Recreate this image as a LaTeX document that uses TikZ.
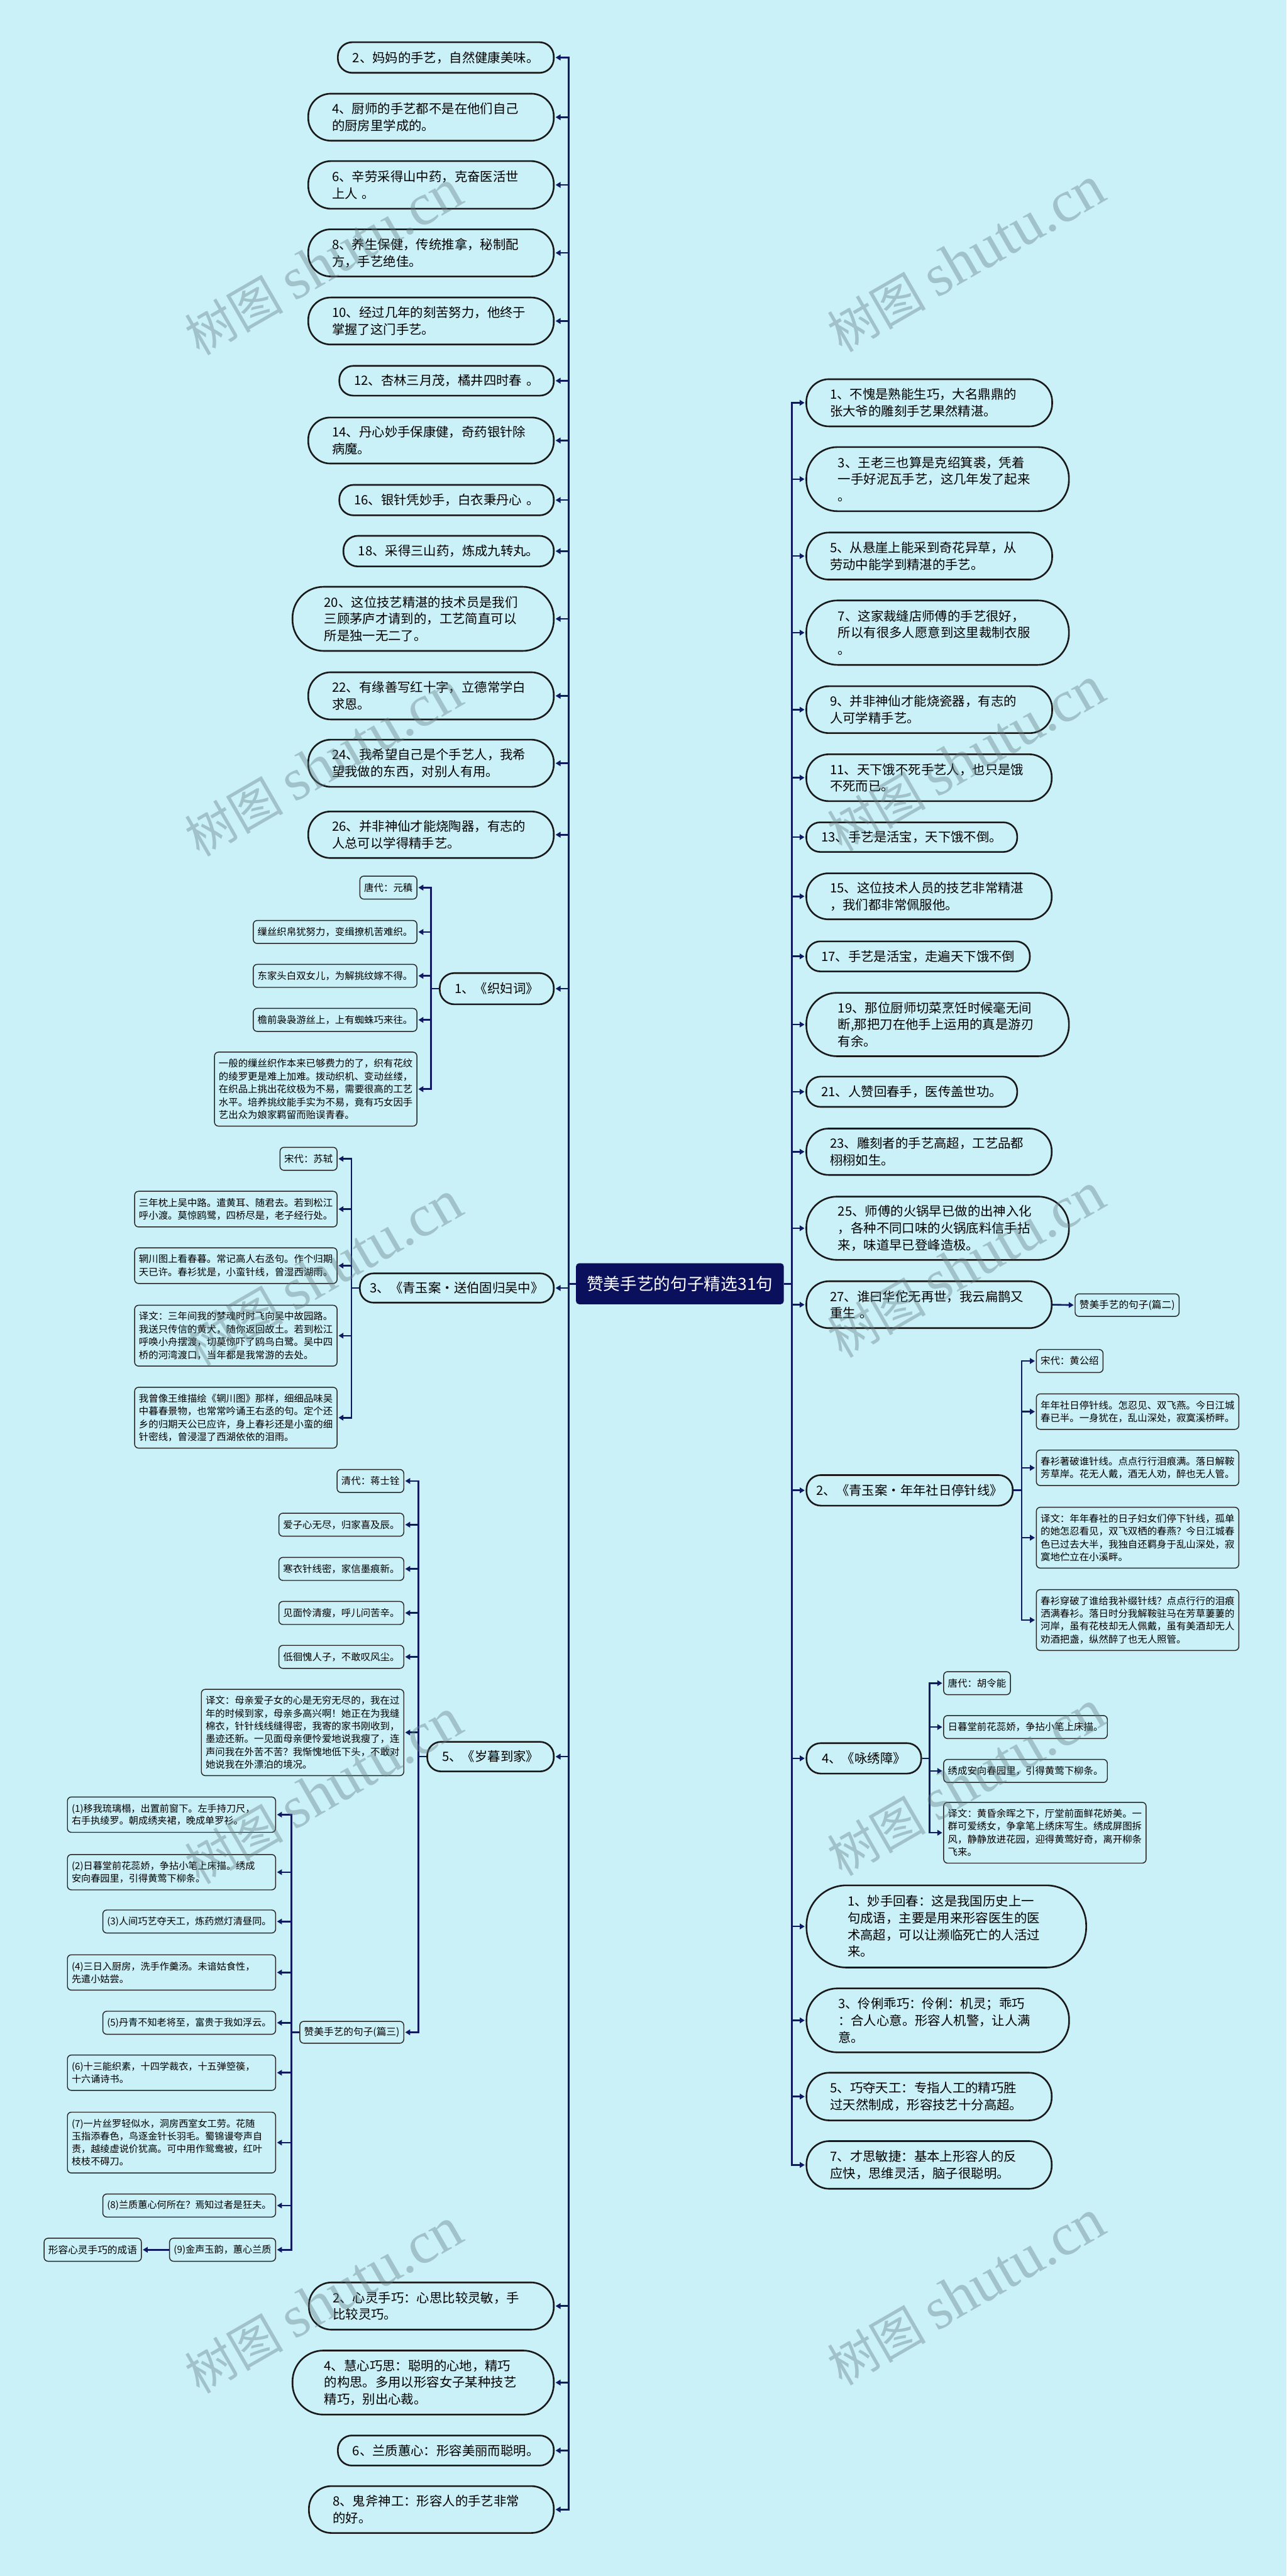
\documentclass[tikz,border=0pt]{standalone}
\usepackage{fontspec}
\setmainfont{Noto Sans CJK SC}
\newfontfamily\wmfont{Liberation Serif}
\usetikzlibrary{arrows.meta,calc}
\definecolor{bgc}{HTML}{CAF0F8}
\definecolor{navy}{HTML}{101A60}
\definecolor{rootc}{HTML}{0B105C}
\tikzset{
 conn/.style={draw=navy, line width=1pt, -{Triangle[length=3pt,width=3.4pt]}, shorten >=0.6pt},
 trunk/.style={draw=navy, line width=1pt},
 lvl/.style={draw=black!90, line width=1pt, fill=bgc, font=\fontsize{7.8}{10.2}\selectfont, inner ysep=1pt},
 subx/.style={draw=black!85, line width=0.55pt, fill=bgc, rounded corners=2.4pt, font=\fontsize{5.9}{7.8}\selectfont, inner xsep=2.6pt, inner ysep=2.5pt, align=left, minimum height=14pt},
 subt/.style={subx, font=\fontsize{5.8}{7.6}\selectfont},
 rootbox/.style={fill=rootc, text=white, rounded corners=2pt, minimum width=126.5pt, minimum height=25pt, font=\fontsize{10.2}{12}\selectfont},
 wm/.style={text={rgb,255:red,100;green,125;blue,130}, text opacity=0.4, font=\fontsize{30}{30}\selectfont, rotate=30}
}
\newcommand\Lbox[7]{%
 \pgfmathsetmacro\mW{#4-#2}%
 \pgfmathsetmacro\mH{#5-#3}%
 \pgfmathsetmacro\mX{(#2+#4)/2}%
 \pgfmathsetmacro\mY{(#3+#5)/2}%
 \pgfmathsetmacro\mR{\mH/2-0.6}%
 \pgfmathsetmacro\mT{\mW-2*#6}%
 \node[lvl, minimum width=\mW pt, minimum height=\mH pt, text width=\mT pt, inner xsep=#6pt, rounded corners=\mR pt, align=left] (#1) at (\mX,\mY) {#7};}
\newcommand\Cbox[6]{%
 \pgfmathsetmacro\mW{#4-#2}%
 \pgfmathsetmacro\mH{#5-#3}%
 \pgfmathsetmacro\mX{(#2+#4)/2}%
 \pgfmathsetmacro\mY{(#3+#5)/2}%
 \pgfmathsetmacro\mR{\mH/2-0.6}%
 \pgfmathsetmacro\mT{\mW-8}%
 \node[lvl, minimum width=\mW pt, minimum height=\mH pt, text width=\mT pt, inner xsep=4pt, rounded corners=\mR pt, align=center] (#1) at (\mX,\mY) {#6};}
\newcommand\Sbox[6]{\node[subx, anchor=#2, minimum height=#5pt] (#1) at (#3,#4) {#6};}
\begin{document}
\begin{tikzpicture}[x=1pt,y=-1pt]
\fill[bgc] (0,0) rectangle (783,1567.2);
\useasboundingbox (0,0) rectangle (783,1567.2);

% root
\node[rootbox] (root) at (413.75,781) {赞美手艺的句子精选31句};
\coordinate (LT) at (346,781);
\coordinate (RT) at (482,781);

% left level-1
\Cbox{L2}{205.6}{25.7}{337}{44.3}{2、妈妈的手艺，自然健康美味。}
\Lbox{L4}{187.6}{57}{337}{85.6}{14.5}{4、厨师的手艺都不是在他们自己\\的厨房里学成的。}
\Lbox{L6}{187.6}{98}{337}{127}{14.5}{6、辛劳采得山中药，克奋医活世\\上人 。}
\Lbox{L8}{187.6}{139.5}{337}{168.2}{14.5}{8、养生保健，传统推拿，秘制配\\方，手艺绝佳。}
\Lbox{L10}{187.6}{181}{337}{209.6}{14.5}{10、经过几年的刻苦努力，他终于\\掌握了这门手艺。}
\Cbox{L12}{206.5}{222.6}{337}{240.7}{12、杏林三月茂，橘井四时春 。}
\Lbox{L14}{187.6}{254}{337}{282}{14.5}{14、丹心妙手保康健，奇药银针除\\病魔。}
\Cbox{L16}{206.5}{295}{337}{313.5}{16、银针凭妙手，白衣秉丹心 。}
\Cbox{L18}{209}{326}{337}{344.6}{18、采得三山药，炼成九转丸。}
\Lbox{L20}{178}{357}{337}{396}{19.3}{20、这位技艺精湛的技术员是我们\\三顾茅庐才请到的，工艺简直可以\\所是独一无二了。}
\Lbox{L22}{187.6}{409}{337}{437.7}{14.5}{22、有缘善写红十字，立德常学白\\求恩。}
\Lbox{L24}{187.6}{450}{337}{478.7}{14.5}{24、我希望自己是个手艺人，我希\\望我做的东西，对别人有用。}
\Lbox{L26}{187.6}{493.7}{337}{522}{14.5}{26、并非神仙才能烧陶器，有志的\\人总可以学得精手艺。}
\Cbox{P1}{267.6}{592}{337}{611}{1、《织妇词》}
\Cbox{P3}{219}{774.7}{337}{792.5}{3、《青玉案·送伯固归吴中》}
\Cbox{P5}{260}{1059.7}{337}{1077.7}{5、《岁暮到家》}
\Lbox{B2}{188}{1388.6}{337}{1417.3}{14.5}{2、心灵手巧：心思比较灵敏，手\\比较灵巧。}
\Lbox{B4}{178}{1430}{337}{1469}{19.3}{4、慧心巧思：聪明的心地，精巧\\的构思。多用以形容女子某种技艺\\精巧，别出心裁。}
\Cbox{B6}{205.6}{1481.7}{337}{1500}{6、兰质蕙心：形容美丽而聪明。}
\Lbox{B8}{188}{1512.5}{337}{1541}{14.5}{8、鬼斧神工：形容人的手艺非常\\的好。}

% right level-1
\Lbox{R1}{490.7}{230.7}{640.3}{259.4}{14.4}{1、不愧是熟能生巧，大名鼎鼎的\\张大爷的雕刻手艺果然精湛。}
\Lbox{R3}{490.7}{272}{650.5}{311}{19.3}{3、王老三也算是克绍箕裘，凭着\\一手好泥瓦手艺，这几年发了起来\\。}
\Lbox{R5}{490.7}{324}{640.3}{352.6}{14.4}{5、从悬崖上能采到奇花异草，从\\劳动中能学到精湛的手艺。}
\Lbox{R7}{490.7}{365.3}{650.5}{404.5}{19.3}{7、这家裁缝店师傅的手艺很好，\\所以有很多人愿意到这里裁制衣服\\。}
\Lbox{R9}{490.7}{417.5}{640.3}{446}{14.4}{9、并非神仙才能烧瓷器，有志的\\人可学精手艺。}
\Lbox{R11}{490.7}{458.9}{640}{487.4}{14.4}{11、天下饿不死手艺人，也只是饿\\不死而已。}
\Cbox{R13}{490.7}{500.3}{619}{518.3}{13、手艺是活宝，天下饿不倒。}
\Lbox{R15}{490.7}{531.3}{640}{559.3}{14.4}{15、这位技术人员的技艺非常精湛\\，我们都非常佩服他。}
\Cbox{R17}{490.7}{572.7}{626.7}{591}{17、手艺是活宝，走遍天下饿不倒}
\Lbox{R19}{490.7}{604}{650.5}{642.6}{19.3}{19、那位厨师切菜烹饪时候毫无间\\断,那把刀在他手上运用的真是游刃\\有余。}
\Cbox{R21}{490.7}{655}{619}{673.4}{21、人赞回春手，医传盖世功。}
\Lbox{R23}{490.7}{686.6}{640}{714.8}{14.4}{23、雕刻者的手艺高超，工艺品都\\栩栩如生。}
\Lbox{R25}{490.7}{728}{650.5}{766.5}{19.3}{25、师傅的火锅早已做的出神入化\\，各种不同口味的火锅底料信手拈\\来，味道早已登峰造极。}
\Lbox{R27}{490.7}{779.5}{640}{808}{14.4}{27、谁曰华佗无再世，我云扁鹊又\\重生 。}
\Cbox{Q2}{490.8}{897.4}{616.3}{916}{2、《青玉案·年年社日停针线》}
\Cbox{Q4}{490.8}{1060.5}{560.6}{1079}{4、《咏绣障》}
\Lbox{M1}{490.8}{1147}{661}{1197}{25}{1、妙手回春：这是我国历史上一\\句成语，主要是用来形容医生的医\\术高超，可以让濒临死亡的人活过\\来。}
\Lbox{M3}{490.8}{1209.7}{650.6}{1248.6}{19.3}{3、伶俐乖巧：伶俐：机灵；乖巧\\：合人心意。形容人机警，让人满\\意。}
\Lbox{M5}{490.8}{1261}{640}{1290}{14.4}{5、巧夺天工：专指人工的精巧胜\\过天然制成，形容技艺十分高超。}
\Lbox{M7}{490.8}{1302.6}{640}{1331.6}{14.4}{7、才思敏捷：基本上形容人的反\\应快，思维灵活，脑子很聪明。}

% sub: 织妇词
\Sbox{a1}{east}{254}{540}{14}{唐代：元稹}
\Sbox{a2}{east}{254}{567}{14}{缫丝织帛犹努力，变缉撩机苦难织。}
\Sbox{a3}{east}{254}{593.7}{14}{东家头白双女儿，为解挑纹嫁不得。}
\Sbox{a4}{east}{254}{620.5}{14}{檐前袅袅游丝上，上有蜘蛛巧来往。}
\Sbox{a5}{east}{254}{662.6}{45}{一般的缫丝织作本来已够费力的了，织有花纹\\的绫罗更是难上加难。拨动织机、变动丝缕，\\在织品上挑出花纹极为不易，需要很高的工艺\\水平。培养挑纹能手实为不易，竟有巧女因手\\艺出众为娘家羁留而贻误青春。}
% sub: 送伯固
\Sbox{b1}{east}{205.4}{705}{14}{宋代：苏轼}
\Sbox{b2}{east}{205.4}{735.6}{21.7}{三年枕上吴中路。遣黄耳、随君去。若到松江\\呼小渡。莫惊鸥鹭，四桥尽是，老子经行处。}
\Sbox{b3}{east}{205.4}{770}{21.7}{辋川图上看春暮。常记高人右丞句。作个归期\\天已许。春衫犹是，小蛮针线，曾湿西湖雨。}
\Sbox{b4}{east}{205.4}{812.6}{37}{译文：三年间我的梦魂时时飞向吴中故园路。\\我送只传信的黄犬，随你返回故土。若到松江\\呼唤小舟摆渡，切莫惊吓了鸥鸟白鹭。吴中四\\桥的河湾渡口，当年都是我常游的去处。}
\Sbox{b5}{east}{205.4}{862.5}{37}{我曾像王维描绘《辋川图》那样，细细品味吴\\中暮春景物，也常常吟诵王右丞的句。定个还\\乡的归期天公已应许，身上春衫还是小蛮的细\\针密线，曾浸湿了西湖依依的泪雨。}
% sub: 岁暮到家
\Sbox{c1}{east}{246}{901}{14}{清代：蒋士铨}
\Sbox{c2}{east}{246}{927.6}{14}{爱子心无尽，归家喜及辰。}
\Sbox{c3}{east}{246}{954.5}{14}{寒衣针线密，家信墨痕新。}
\Sbox{c4}{east}{246}{981.3}{14}{见面怜清瘦，呼儿问苦辛。}
\Sbox{c5}{east}{246}{1008}{14}{低徊愧人子，不敢叹风尘。}
\Sbox{c6}{east}{246}{1054}{52.5}{译文：母亲爱子女的心是无穷无尽的，我在过\\年的时候到家，母亲多高兴啊！她正在为我缝\\棉衣，针针线线缝得密，我寄的家书刚收到，\\墨迹还新。一见面母亲便怜爱地说我瘦了，连\\声问我在外苦不苦？我惭愧地低下头，不敢对\\她说我在外漂泊的境况。}
\node[subx, font=\fontsize{6}{7.6}\selectfont, anchor=east, minimum height=13.3pt] (c7) at (246,1236.4) {赞美手艺的句子(篇三)};
% sub: 篇三
\node[subt, anchor=east, text width=121.5pt, minimum height=21.5pt] (d1) at (168,1104) {(1)移我琉璃榻，出置前窗下。左手持刀尺，\\右手执绫罗。朝成绣夹裙，晚成单罗衫。};
\node[subt, anchor=east, text width=121.5pt, minimum height=21.5pt] (d2) at (168,1139) {(2)日暮堂前花蕊娇，争拈小笔上床描。绣成\\安向春园里，引得黄莺下柳条。};
\node[subt, anchor=east] (d3) at (168,1169) {(3)人间巧艺夺天工，炼药燃灯清昼同。};
\node[subt, anchor=east, text width=121.5pt, minimum height=21.5pt] (d4) at (168,1200) {(4)三日入厨房，洗手作羹汤。未谙姑食性，\\先遣小姑尝。};
\node[subt, anchor=east] (d5) at (168,1230.6) {(5)丹青不知老将至，富贵于我如浮云。};
\node[subt, anchor=east, text width=121.5pt, minimum height=21.5pt] (d6) at (168,1261) {(6)十三能织素，十四学裁衣，十五弹箜篌，\\十六诵诗书。};
\node[subt, anchor=east, text width=121.5pt, minimum height=37pt] (d7) at (168,1303.5) {(7)一片丝罗轻似水，洞房西室女工劳。花随\\玉指添春色，鸟逐金针长羽毛。蜀锦谩夸声自\\责，越绫虚说价犹高。可中用作鸳鸯被，红叶\\枝枝不碍刀。};
\node[subt, anchor=east] (d8) at (168,1341.8) {(8)兰质蕙心何所在？焉知过者是狂夫。};
\node[subt, anchor=east] (d9) at (168,1368.7) {(9)金声玉韵，蕙心兰质};
\node[subt, font=\fontsize{6}{7.6}\selectfont, anchor=east] (d10) at (86.3,1368.7) {形容心灵手巧的成语};
% sub: 年年社日
\Sbox{e1}{west}{630.4}{828}{14}{宋代：黄公绍}
\Sbox{e2}{west}{630.4}{858.8}{21.6}{年年社日停针线。怎忍见、双飞燕。今日江城\\春已半。一身犹在，乱山深处，寂寞溪桥畔。}
\Sbox{e3}{west}{630.4}{893}{21.6}{春衫著破谁针线。点点行行泪痕满。落日解鞍\\芳草岸。花无人戴，酒无人劝，醉也无人管。}
\Sbox{e4}{west}{630.4}{935.5}{37}{译文：年年春社的日子妇女们停下针线，孤单\\的她怎忍看见，双飞双栖的春燕？今日江城春\\色已过去大半，我独自还羁身于乱山深处，寂\\寞地伫立在小溪畔。}
\Sbox{e5}{west}{630.4}{985.6}{37}{春衫穿破了谁给我补缀针线？点点行行的泪痕\\洒满春衫。落日时分我解鞍驻马在芳草萋萋的\\河岸，虽有花枝却无人佩戴，虽有美酒却无人\\劝酒把盏，纵然醉了也无人照管。}
% sub: 咏绣障
\Sbox{f1}{west}{574}{1024}{14}{唐代：胡令能}
\Sbox{f2}{west}{574}{1050.7}{14}{日暮堂前花蕊娇，争拈小笔上床描。}
\Sbox{f3}{west}{574}{1077.4}{14}{绣成安向春园里，引得黄莺下柳条。}
\Sbox{f4}{west}{574}{1115}{37}{译文：黄昏余晖之下，厅堂前面鲜花娇美。一\\群可爱绣女，争拿笔上绣床写生。绣成屏图拆\\风，静静放进花园，迎得黄莺好奇，离开柳条\\飞来。}
% 篇二
\node[subx, font=\fontsize{6}{7.6}\selectfont, anchor=west, minimum height=13.7pt] (g1) at (654,794) {赞美手艺的句子(篇二)};

% trunks
\draw[trunk] (root.west) -- (LT);
\draw[trunk] (root.east) -- (RT);
\foreach \n in {L2,L4,L6,L8,L10,L12,L14,L16,L18,L20,L22,L24,L26,P1,P3,P5,B2,B4,B6,B8}
  \draw[conn] (LT) |- (\n.east);
\foreach \n in {R1,R3,R5,R7,R9,R11,R13,R15,R17,R19,R21,R23,R25,R27,Q2,Q4,M1,M3,M5,M7}
  \draw[conn] (RT) |- (\n.west);
% sub branches
\coordinate (J1) at ([xshift=-4.8pt]P1.west);
\foreach \n in {a1,a2,a3,a4,a5} \draw[conn] (P1.west) -- (J1) |- (\n.east);
\coordinate (J3) at ([xshift=-4.6pt]P3.west);
\foreach \n in {b1,b2,b3,b4,b5} \draw[conn] (P3.west) -- (J3) |- (\n.east);
\coordinate (J5) at ([xshift=-4.8pt]P5.west);
\foreach \n in {c1,c2,c3,c4,c5,c6,c7} \draw[conn] (P5.west) -- (J5) |- (\n.east);
\coordinate (J7) at ([xshift=-4.9pt]c7.west);
\foreach \n in {d1,d2,d3,d4,d5,d6,d7,d8,d9} \draw[conn] (c7.west) -- (J7) |- (\n.east);
\draw[conn] (d9.west) -- (d10.east);
\coordinate (JQ2) at ([xshift=4.9pt]Q2.east);
\foreach \n in {e1,e2,e3,e4,e5} \draw[conn] (Q2.east) -- (JQ2) |- (\n.west);
\coordinate (JQ4) at ([xshift=4.7pt]Q4.east);
\foreach \n in {f1,f2,f3,f4} \draw[conn] (Q4.east) -- (JQ4) |- (\n.west);
\draw[conn] (R27.east) -- (g1.west);

% watermarks
\foreach \wx/\wy in {197/160,588/158,197/465,588/462,197/775,588/770,197/1090,588/1085,197/1400,588/1395}
  \node[wm] at (\wx,\wy) {树图 {\wmfont\fontsize{36}{36}\selectfont shutu.cn}};
\end{tikzpicture}
\end{document}
